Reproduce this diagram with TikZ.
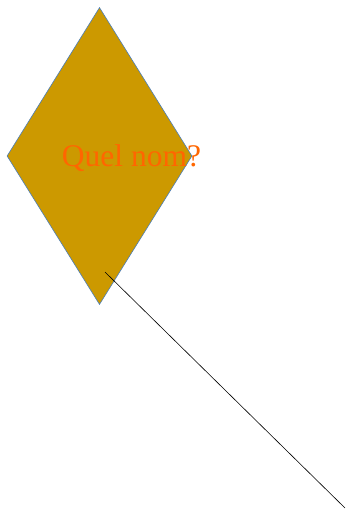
\documentclass[tikz,border=0pt]{standalone}
\usepackage{fontspec}
\setmainfont{Liberation Serif}
\usetikzlibrary{shapes.geometric}
\definecolor{kitefill}{HTML}{CC9900}
\definecolor{kiteline}{HTML}{4A7EBB}
\definecolor{nomcol}{HTML}{FF6600}
\tikzset{
  kite/.style={diamond, draw=kiteline, fill=kitefill, line width=0.6pt,
    inner sep=0pt, minimum width=185pt, minimum height=297pt},
  question/.style={text=nomcol, font=\fontsize{31.5}{36}\selectfont, inner sep=0pt},
}

\begin{document}
\begin{tikzpicture}[x=1pt, y=-1pt]
      \useasboundingbox (0,0) rectangle (347,510);
      \node[kite] (K) at (99.5,156) {};
      \node[question] (Q) at (131.5,158) {Quel nom?};
      \coordinate (s) at (105,272);
      \coordinate (e) at (345,508);
      \draw[line width=0.6pt] (s) -- (e);
    \end{tikzpicture}
\end{document}
